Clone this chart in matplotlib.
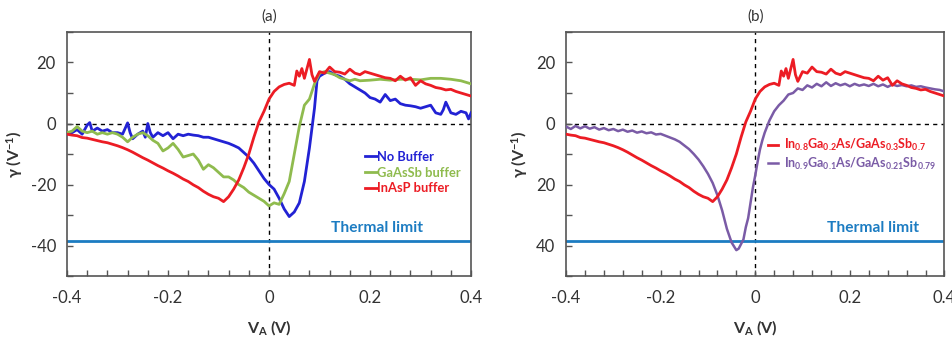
import numpy as np
import matplotlib.pyplot as plt
from matplotlib.ticker import FixedLocator, MultipleLocator, FuncFormatter

plt.rcParams['font.family'] = ['Lato', 'DejaVu Sans']
plt.rcParams['mathtext.fontset'] = 'custom'
plt.rcParams['mathtext.rm'] = 'Lato:bold'
plt.rcParams['mathtext.bf'] = 'Lato:bold'
plt.rcParams['mathtext.default'] = 'bf'

# ---- data ----
inasp_v = [-0.40, -0.39, -0.38, -0.37, -0.36, -0.35, -0.34, -0.33, -0.32, -0.31,
           -0.30, -0.29, -0.28, -0.27, -0.26, -0.25, -0.24, -0.23, -0.22, -0.21,
           -0.20, -0.19, -0.18, -0.17, -0.16, -0.15, -0.14, -0.13, -0.12, -0.11,
           -0.10, -0.09, -0.08, -0.07, -0.06, -0.05, -0.04, -0.03, -0.02, -0.01,
           0.00, 0.01, 0.02, 0.03, 0.04, 0.05, 0.055, 0.06, 0.065, 0.07,
           0.08, 0.085, 0.09, 0.10, 0.11, 0.12, 0.13, 0.14, 0.15, 0.16,
           0.17, 0.18, 0.19, 0.20, 0.21, 0.22, 0.23, 0.24, 0.25, 0.26,
           0.27, 0.28, 0.29, 0.30, 0.31, 0.32, 0.33, 0.34, 0.35, 0.36,
           0.37, 0.38, 0.39, 0.40]
inasp_g = [-3.5, -3.8, -4.0, -4.6, -4.8, -5.2, -5.6, -6.0, -6.3, -6.8,
           -7.3, -7.9, -8.6, -9.4, -10.3, -11.2, -12.0, -12.9, -13.8, -14.6,
           -15.5, -16.3, -17.2, -18.2, -19.0, -20.1, -21.0, -22.2, -23.2, -24.0,
           -24.5, -25.6, -24.0, -21.5, -18.5, -14.5, -10.0, -4.5, 0.5, 4.0,
           8.0, 10.5, 12.0, 12.8, 13.2, 12.5, 17.2, 15.5, 18.0, 14.8,
           21.0, 16.0, 13.8, 17.0, 16.5, 18.5, 17.0, 16.8, 16.2, 17.8,
           16.5, 16.0, 17.0, 16.5, 16.0, 15.5, 15.0, 14.8, 14.0, 15.5,
           14.2, 15.0, 12.5, 14.0, 13.0, 12.5, 11.8, 11.5, 11.0, 11.2,
           10.5, 10.0, 9.5, 9.0]

nobuf_v = [-0.40, -0.39, -0.38, -0.37, -0.36, -0.355, -0.35, -0.34, -0.33, -0.32,
           -0.31, -0.30, -0.29, -0.28, -0.275, -0.27, -0.26, -0.25, -0.245, -0.24,
           -0.235, -0.23, -0.22, -0.21, -0.20, -0.19, -0.18, -0.17, -0.16, -0.15,
           -0.14, -0.13, -0.12, -0.11, -0.10, -0.09, -0.08, -0.07, -0.06, -0.05,
           -0.04, -0.03, -0.02, -0.01, 0.00, 0.01, 0.02, 0.03, 0.04, 0.05,
           0.06, 0.07, 0.08, 0.09, 0.095, 0.10, 0.11, 0.12, 0.13, 0.14,
           0.15, 0.16, 0.17, 0.18, 0.19, 0.20, 0.21, 0.22, 0.23, 0.24,
           0.25, 0.26, 0.27, 0.28, 0.29, 0.30, 0.31, 0.32, 0.33, 0.34,
           0.345, 0.35, 0.36, 0.37, 0.38, 0.39, 0.395, 0.40]
nobuf_g = [-3.5, -3.0, -2.0, -3.5, -0.5, 0.3, -2.5, -1.5, -2.5, -2.0,
           -3.0, -3.0, -3.5, 0.2, -3.0, -5.0, -3.5, -2.5, -4.5, 0.0,
           -3.0, -4.5, -3.0, -4.0, -3.0, -5.0, -3.5, -4.0, -3.5, -3.8,
           -4.0, -4.5, -4.5, -5.0, -5.5, -6.0, -6.5, -7.2, -8.0, -9.5,
           -11.0, -13.0, -15.5, -18.0, -20.0, -21.5, -24.5, -28.0, -30.5, -29.0,
           -26.0, -19.0, -8.0, 5.0, 14.0, 15.5, 16.5, 17.0, 16.0, 15.5,
           14.5, 13.0, 12.0, 11.0, 10.0, 8.5, 8.0, 7.0, 9.5, 7.5,
           8.0, 6.5, 6.0, 5.8, 5.5, 5.0, 5.5, 6.0, 3.5, 3.0,
           4.5, 7.0, 3.5, 3.0, 4.0, 3.5, 1.5, 3.5]

gaassb_v = [-0.40, -0.39, -0.38, -0.37, -0.36, -0.35, -0.34, -0.33, -0.32, -0.31,
            -0.30, -0.29, -0.28, -0.27, -0.26, -0.25, -0.24, -0.23, -0.22, -0.21,
            -0.20, -0.19, -0.18, -0.17, -0.16, -0.15, -0.14, -0.13, -0.12, -0.11,
            -0.10, -0.09, -0.08, -0.07, -0.06, -0.05, -0.04, -0.03, -0.02, -0.01,
            0.00, 0.01, 0.02, 0.03, 0.04, 0.05, 0.06, 0.07, 0.08, 0.09,
            0.10, 0.11, 0.12, 0.13, 0.14, 0.15, 0.16, 0.17, 0.18, 0.20,
            0.22, 0.24, 0.26, 0.28, 0.30, 0.32, 0.34, 0.36, 0.38, 0.40]
gaassb_g = [-3.0, -2.5, -1.0, -2.5, -3.0, -2.5, -3.5, -3.0, -3.5, -3.0,
            -3.5, -4.5, -6.0, -4.5, -3.5, -3.0, -4.0, -5.5, -6.5, -9.0,
            -8.0, -6.5, -8.5, -11.0, -10.5, -10.0, -12.0, -15.0, -13.5, -14.5,
            -16.0, -17.5, -17.5, -18.5, -20.0, -21.0, -22.5, -23.5, -24.5, -25.5,
            -27.0, -26.0, -26.5, -23.0, -19.0, -10.0, -1.0, 6.0, 8.0, 13.0,
            16.5, 17.0, 16.5, 16.0, 15.0, 14.5, 14.0, 14.5, 14.0, 14.2,
            14.5, 14.2, 14.5, 14.5, 14.3, 14.8, 14.8, 14.5, 14.0, 13.0]

ingaas_v = [-0.40, -0.39, -0.38, -0.37, -0.36, -0.35, -0.34, -0.33, -0.32, -0.31,
            -0.30, -0.29, -0.28, -0.27, -0.26, -0.25, -0.24, -0.23, -0.22, -0.21,
            -0.20, -0.19, -0.18, -0.17, -0.16, -0.15, -0.14, -0.13, -0.12, -0.11,
            -0.10, -0.09, -0.08, -0.07, -0.06, -0.05, -0.04, -0.035, -0.03, -0.025,
            -0.02, -0.015, -0.01, -0.005, 0.00, 0.005, 0.01, 0.015, 0.02, 0.03,
            0.04, 0.05, 0.06, 0.07, 0.08, 0.09, 0.10, 0.11, 0.12, 0.13,
            0.14, 0.15, 0.16, 0.17, 0.18, 0.19, 0.20, 0.21, 0.22, 0.23,
            0.24, 0.25, 0.26, 0.27, 0.28, 0.29, 0.30, 0.31, 0.32, 0.33,
            0.34, 0.35, 0.36, 0.37, 0.38, 0.39, 0.40]
ingaas_g = [-1.0, -1.8, -0.8, -1.6, -0.9, -1.7, -1.2, -2.0, -1.5, -2.2,
            -1.8, -2.5, -2.0, -2.7, -2.3, -3.0, -2.6, -3.2, -2.9, -3.6,
            -3.4, -4.0, -4.6, -5.2, -6.0, -7.2, -8.4, -10.0, -11.8, -14.0,
            -16.5, -19.5, -23.5, -28.5, -34.5, -39.0, -41.5, -41.0, -39.5, -38.0,
            -34.0, -31.0, -26.0, -21.0, -17.0, -12.5, -8.5, -5.5, -3.0, 1.0,
            4.0, 6.0, 7.5, 9.5, 10.0, 11.5, 11.0, 12.5, 11.8, 13.0,
            12.2, 13.5, 12.3, 13.2, 12.5, 13.0, 12.2, 13.0, 12.4, 12.8,
            12.3, 13.0, 12.2, 12.8, 12.0, 12.8, 12.3, 12.6, 12.2, 12.5,
            12.0, 12.2, 11.8, 11.5, 11.2, 11.0, 10.5]

thermal_limit = -38.5

RED = "#ec1c24"
BLUE = "#2222d4"
GREEN = "#8fbb4e"
PURPLE = "#7a5ba6"
TBLUE = "#1c7cc2"

fig = plt.figure(figsize=(9.53, 3.4), dpi=100)
ax_a = fig.add_axes([0.0703, 0.188, 0.424, 0.718])
ax_b = fig.add_axes([0.594, 0.188, 0.397, 0.718])


def style(ax, title, neg_labels=True):
    ax.set_xlim(-0.4, 0.4)
    ax.set_ylim(-50, 30)
    ax.xaxis.set_major_locator(FixedLocator([-0.4, -0.2, 0, 0.2, 0.4]))
    ax.xaxis.set_minor_locator(MultipleLocator(0.04))
    ax.yaxis.set_major_locator(FixedLocator([-40, -20, 0, 20]))
    ax.yaxis.set_minor_locator(MultipleLocator(10))
    ax.xaxis.set_major_formatter(FuncFormatter(lambda v, p: "0" if abs(v) < 1e-9 else f"{v:g}"))
    if neg_labels:
        ax.yaxis.set_major_formatter(FuncFormatter(lambda v, p: f"{v:g}"))
    else:
        ax.yaxis.set_major_formatter(FuncFormatter(lambda v, p: f"{abs(v):g}"))
    ax.tick_params(which="both", direction="in", length=4, width=1.0,
                   color="#555555", labelsize=12, labelcolor="#333333")
    ax.tick_params(axis="x", pad=10)
    ax.tick_params(axis="y", pad=8)
    ax.tick_params(which="both", top=False, right=False)
    for s in ax.spines.values():
        s.set_color("#555555")
        s.set_linewidth(1.2)
    ax.axhline(0, color="black", ls=(0, (3, 3)), lw=1.0, zorder=1)
    ax.axvline(0, color="black", ls=(0, (3, 3)), lw=1.0, zorder=1)
    ax.axhline(thermal_limit, color=TBLUE, lw=2.0, zorder=2)
    ax.set_xlabel(r"V$_\mathregular{A}$ (V)", fontsize=11.5, fontweight="bold",
                  color="#333333", labelpad=9)
    ax.set_ylabel("\u03b3 (V$^{-1}$)", fontsize=11.5, fontweight="bold",
                  color="#333333", labelpad=4)
    ax.set_title(title, fontsize=11, color="#333333", pad=8)


style(ax_a, "(a)")
style(ax_b, "(b)", neg_labels=False)

# panel (a)
ax_a.plot(nobuf_v, nobuf_g, color=BLUE, lw=2.0, label="No Buffer", zorder=3)
ax_a.plot(gaassb_v, gaassb_g, color=GREEN, lw=2.0, label="GaAsSb buffer", zorder=3)
ax_a.plot(inasp_v, inasp_g, color=RED, lw=2.0, label="InAsP buffer", zorder=4)
leg_a = ax_a.legend(loc="upper left", bbox_to_anchor=(0.725, 0.535), frameon=False,
                    handlelength=0.9, handletextpad=0.0, labelspacing=0.3,
                    prop={"weight": "bold", "size": 9.3}, borderaxespad=0)
for t, h in zip(leg_a.get_texts(), leg_a.get_lines()):
    t.set_color(h.get_color())
ax_a.text(0.653, -35.6, "Thermal limit", color=TBLUE, fontsize=11.2,
          fontweight="bold", transform=ax_a.get_yaxis_transform())

# panel (b)
ax_b.plot(inasp_v, inasp_g, color=RED, lw=2.0,
          label=r"In$_{0.8}$Ga$_{0.2}$As/GaAs$_{0.3}$Sb$_{0.7}$", zorder=4)
ax_b.plot(ingaas_v, ingaas_g, color=PURPLE, lw=1.8,
          label=r"In$_{0.9}$Ga$_{0.1}$As/GaAs$_{0.21}$Sb$_{0.79}$", zorder=3)
leg_b = ax_b.legend(loc="upper left", bbox_to_anchor=(0.52, 0.59), frameon=False,
                    handlelength=0.8, handletextpad=0.5, labelspacing=0.2,
                    prop={"weight": "bold", "size": 9}, borderaxespad=0)
for t, h in zip(leg_b.get_texts(), leg_b.get_lines()):
    t.set_color(h.get_color())
ax_b.text(0.69, -35.6, "Thermal limit", color=TBLUE, fontsize=11.2,
          fontweight="bold", transform=ax_b.get_yaxis_transform())

fig.savefig("out.png", dpi=100, facecolor="white")
